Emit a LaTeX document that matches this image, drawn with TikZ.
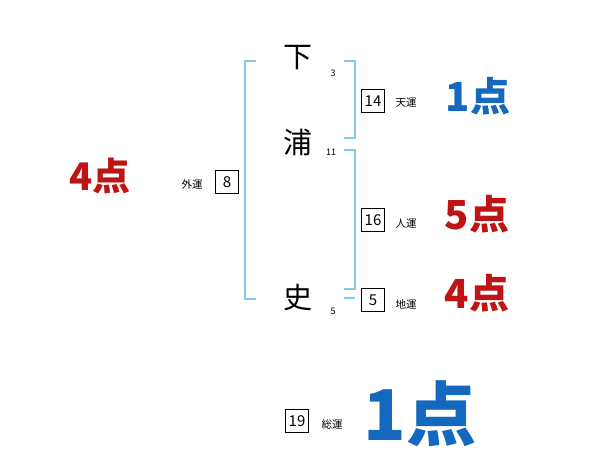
\documentclass[tikz,border=0pt]{standalone}
\usepackage{fontspec}
\setmainfont{Noto Sans CJK JP}
\usepackage{tikz}
\usepackage{xcolor}
\definecolor{bracketblue}{RGB}{135,200,232}
\definecolor{goodblue}{RGB}{20,105,190}
\definecolor{badred}{RGB}{190,20,20}

\begin{document}
\begin{tikzpicture}[x=1pt,y=-1pt,
  kanji/.style={font=\fontsize{29}{29}\selectfont},
  stroke/.style={font=\fontsize{9}{9}\selectfont},
  numbox/.style={draw=black,minimum width=23pt,minimum height=23pt,inner sep=0pt,font=\fontsize{15}{15}\selectfont},
  unlabel/.style={font=\fontsize{10.5}{10.5}\selectfont},
  score/.style={font=\bfseries\fontsize{40}{40}\selectfont},
  bracket/.style={draw=bracketblue,line width=1.2pt}]
\useasboundingbox (0,0) rectangle (600,470);
\node[kanji] (shimo) at (298,58) {下};
\node[kanji] (ura) at (298,142) {浦};
\node[kanji] (shi) at (298,298) {史};
\node[stroke] (nshimo) at (333,73) {3};
\node[stroke] (nura) at (331,152) {11};
\node[stroke] (nshi) at (333,311) {5};
\draw[bracket] (256,61) -- (245,61) -- (245,299) -- (256,299);
\draw[bracket] (344,61) -- (355,61) -- (355,138) -- (344,138);
\draw[bracket] (344,150) -- (355,150) -- (355,289) -- (344,289);
\draw[bracket] (344,298) -- (355,298);
\node[numbox] (ten) at (373,101) {14};
\node[unlabel] (tenl) at (406,103) {天運};
\node[numbox] (jin) at (373,220) {16};
\node[unlabel] (jinl) at (406,224) {人運};
\node[numbox] (chi) at (373,300) {5};
\node[unlabel] (chil) at (406,304) {地運};
\node[numbox] (gai) at (227,182) {8};
\node[unlabel] (gail) at (192,184) {外運};
\node[numbox] (sou) at (297,421) {19};
\node[unlabel] (soul) at (332,424) {総運};
\node[score,text=goodblue] (tenp) at (478,96) {1点};
\node[score,text=badred] (jinp) at (477,214) {5点};
\node[score,text=badred] (chip) at (477,293) {4点};
\node[score,text=badred,font=\bfseries\fontsize{38}{38}\selectfont] (gaip) at (100,176) {4点};
\node[score,text=goodblue,font=\bfseries\fontsize{70}{70}\selectfont] (soup) at (420,414) {1点};
\end{tikzpicture}
\end{document}
